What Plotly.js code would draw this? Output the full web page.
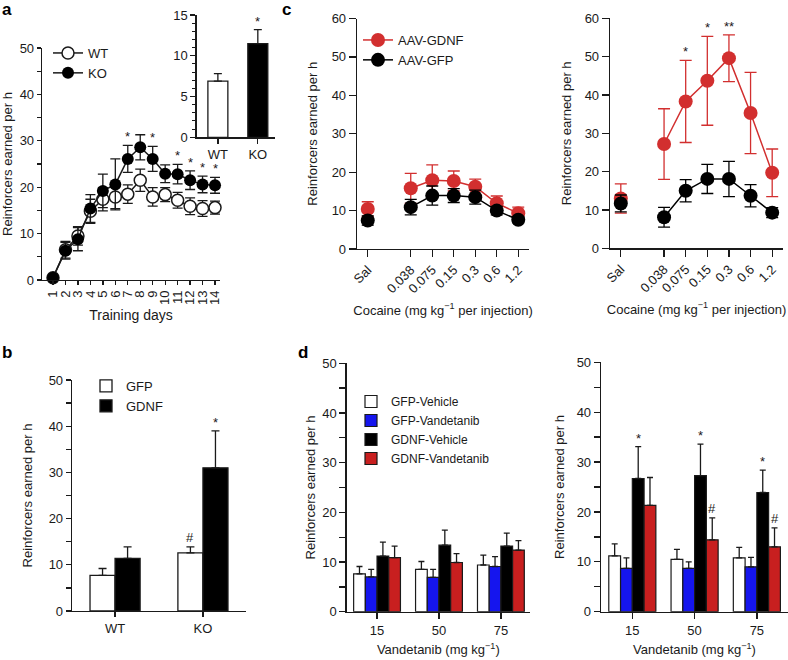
<!DOCTYPE html>
<html>
<head>
<meta charset="utf-8">
<script src="https://cdn.plot.ly/plotly-3.0.1.min.js"></script>
<style>
	html, body { margin: 0; padding: 0; background: #fff; }
	#plot { width: 788px; height: 660px; }
</style>
</head>
<body>
<div id="plot"></div>
<script>
const W = 788;
const H = 660;
const INK = "#1a1a1a";
const RED = "#d22f2f";
const BAR_RED = "#c81f1f";
const BLUE = "#1515ee";
const FONT = "Liberation Sans, Arial, sans-serif";
const TITLE = "Reinforcers earned per h";

// panel a: acquisition over training days
const days = [1, 2, 3, 4, 5, 6, 7, 8, 9, 10, 11, 12, 13, 14];
const wtMean = [0.5, 6.5, 9.5, 14.8, 17.4, 17.9, 18.5, 21.5, 17.9, 18.4, 17.2, 15.9, 15.4, 15.6];
const wtErr = [0.4, 1.8, 2.0, 2.6, 2.5, 2.5, 2.0, 2.4, 2.0, 1.5, 1.7, 1.8, 1.7, 1.4];
const koMean = [0.5, 6.3, 8.8, 15.4, 19.2, 20.6, 26.1, 28.6, 26.1, 22.9, 22.8, 21.5, 20.6, 20.4];
const koErr = [0.4, 1.8, 2.5, 3.0, 3.6, 5.5, 2.9, 2.7, 2.7, 1.9, 2.1, 2.0, 1.8, 1.7];
const koStarDays = [7, 9, 11, 12, 13, 14];

// panel a inset
const insetGroups = ["WT", "KO"];
const insetMean = [6.9, 11.5];
const insetErr = [0.9, 1.7];

// panel b
const genotypes = ["WT", "KO"];
const bGfp = [7.7, 12.6];
const bGfpErr = [1.5, 1.3];
const bGdnf = [11.4, 31.0];
const bGdnfErr = [2.5, 8.0];

// panel c: cocaine dose response
const doseLabels = ["Sal", "0.038", "0.075", "0.15", "0.3", "0.6", "1.2"];
const dosePos = [0, 2, 3, 4, 5, 6, 7];
const cLeftGdnf = [10.4, 15.8, 17.9, 17.7, 16.2, 11.9, 9.3];
const cLeftGdnfErr = [1.9, 3.9, 4.0, 2.6, 2.0, 1.9, 1.6];
const cLeftGfp = [7.4, 10.9, 13.9, 13.9, 13.5, 10.0, 7.6];
const cLeftGfpErr = [1.2, 2.0, 2.5, 1.8, 1.8, 1.1, 0.8];
const cRightGdnf = [13.0, 27.2, 38.3, 43.7, 49.6, 35.3, 19.7];
const cRightGdnfErr = [3.8, 9.2, 10.7, 11.6, 6.1, 10.6, 6.2];
const cRightGfp = [11.7, 8.1, 15.0, 18.1, 18.1, 13.7, 9.3];
const cRightGfpErr = [2.2, 2.6, 2.9, 3.8, 4.6, 2.9, 1.3];
const cRightStars = [["0.075", "*"], ["0.15", "*"], ["0.3", "**"]];

// panel d: vandetanib
const vandDoses = ["15", "50", "75"];
const dGroups = ["GFP-Vehicle", "GFP-Vandetanib", "GDNF-Vehicle", "GDNF-Vandetanib"];
const dColors = ["#ffffff", BLUE, "#000000", BAR_RED];
const dLeftMean = [[7.6, 8.5, 9.4], [7.0, 6.9, 9.1], [11.2, 13.4, 13.2], [10.9, 9.9, 12.4]];
const dLeftErr = [[1.5, 1.6, 2.0], [1.5, 1.6, 2.0], [2.8, 3.0, 2.6], [2.3, 1.8, 1.9]];
const dRightMean = [[11.2, 10.5, 10.8], [8.7, 8.7, 9.0], [26.7, 27.3, 23.9], [21.3, 14.4, 13.0]];
const dRightErr = [[2.4, 2.0, 2.1], [2.1, 1.3, 1.9], [6.4, 6.3, 4.5], [5.6, 4.4, 3.8]];

// pixel boxes -> paper domains
const xd = (left, right) => [left / W, right / W];
const yd = (top, bottom) => [1 - bottom / H, 1 - top / H];

function axis(extra) {
	return Object.assign({
		showline: true,
		linecolor: INK,
		linewidth: 1.3,
		ticks: "outside",
		ticklen: 5,
		tickwidth: 1.3,
		tickcolor: INK,
		showgrid: false,
		zeroline: false,
		fixedrange: true,
		automargin: false,
		tickfont: { size: 13, color: INK },
	}, extra);
}

function axisTitle(text, standoff, size) {
	return { text: text, standoff: standoff, font: { size: size || 13, color: INK } };
}

const traces = [];

// ---- panel a
traces.push({
	x: days, y: wtMean, name: "WT", xaxis: "x", yaxis: "y",
	type: "scatter", mode: "lines+markers", cliponaxis: false,
	line: { color: INK, width: 1.5 },
	marker: { symbol: "circle", size: 12, color: "#fff", line: { color: INK, width: 1.5 } },
	error_y: { type: "data", array: wtErr, color: INK, thickness: 1.3, width: 5 },
});
traces.push({
	x: days, y: koMean, name: "KO", xaxis: "x", yaxis: "y",
	type: "scatter", mode: "lines+markers", cliponaxis: false,
	line: { color: INK, width: 1.5 },
	marker: { symbol: "circle", size: 12, color: "#000" },
	error_y: { type: "data", array: koErr, color: INK, thickness: 1.3, width: 5 },
});
traces.push({
	x: insetGroups.map((g, i) => i), y: insetMean, xaxis: "x2", yaxis: "y2",
	type: "bar", width: 0.5, showlegend: false,
	marker: { color: ["#fff", "#000"], line: { color: INK, width: 1.3 } },
	error_y: { type: "data", symmetric: false, array: insetErr, arrayminus: [0, 0], color: INK, thickness: 1.3, width: 4 },
});

// ---- panel b
traces.push({
	x: genotypes.map((g, i) => i), y: bGfp, name: "GFP", legend: "legend2",
	xaxis: "x5", yaxis: "y5", type: "bar", width: 0.285, offset: -0.285,
	marker: { color: "#fff", line: { color: INK, width: 1.3 } },
	error_y: { type: "data", symmetric: false, array: bGfpErr, arrayminus: [0, 0], color: INK, thickness: 1.3, width: 4 },
});
traces.push({
	x: genotypes.map((g, i) => i), y: bGdnf, name: "GDNF", legend: "legend2",
	xaxis: "x5", yaxis: "y5", type: "bar", width: 0.285, offset: 0,
	marker: { color: "#000", line: { color: INK, width: 1.3 } },
	error_y: { type: "data", symmetric: false, array: bGdnfErr, arrayminus: [0, 0], color: INK, thickness: 1.3, width: 4 },
});

// ---- panel c
function doseTraces(mean, err, color, name, ax, showLegend) {
	const base = {
		xaxis: "x" + ax, yaxis: "y" + ax, type: "scatter", cliponaxis: false,
		legend: "legend3", legendgroup: name + ax,
		line: { color: color, width: 1.5 },
		marker: { symbol: "circle", size: 14, color: color },
	};
	return [
		Object.assign({}, base, {
			x: dosePos.slice(1), y: mean.slice(1), name: name, mode: "lines+markers", showlegend: showLegend,
			error_y: { type: "data", array: err.slice(1), color: color, thickness: 1.3, width: 6 },
		}),
		Object.assign({}, base, {
			x: dosePos.slice(0, 1), y: mean.slice(0, 1), name: name, mode: "markers", showlegend: false,
			error_y: { type: "data", array: err.slice(0, 1), color: color, thickness: 1.3, width: 6 },
		}),
	];
}
traces.push(...doseTraces(cLeftGdnf, cLeftGdnfErr, RED, "AAV-GDNF", 3, true));
traces.push(...doseTraces(cLeftGfp, cLeftGfpErr, "#000", "AAV-GFP", 3, true));
traces.push(...doseTraces(cRightGdnf, cRightGdnfErr, RED, "AAV-GDNF", 4, false));
traces.push(...doseTraces(cRightGfp, cRightGfpErr, "#000", "AAV-GFP", 4, false));

// ---- panel d
const dWidth = 0.189;
function vandTraces(means, errs, ax, showLegend) {
	return dGroups.map((name, k) => ({
		x: vandDoses.map((d, i) => i), y: means[k], name: name,
		xaxis: "x" + ax, yaxis: "y" + ax, type: "bar", legend: "legend4",
		showlegend: showLegend, width: dWidth, offset: (k - 2) * dWidth,
		marker: { color: dColors[k], line: { color: INK, width: 1.2 } },
		error_y: { type: "data", symmetric: false, array: errs[k], arrayminus: [0, 0, 0], color: INK, thickness: 1.3, width: 3 },
	}));
}
traces.push(...vandTraces(dLeftMean, dLeftErr, 6, true));
traces.push(...vandTraces(dRightMean, dRightErr, 7, false));

// ---- significance marks
const annotations = [];
function mark(ax, x, y, text, shift) {
	annotations.push({
		xref: "x" + ax, yref: "y" + ax, x: x, y: y, text: text,
		showarrow: false, yanchor: "bottom", yshift: shift || 0,
		font: { size: 13, color: INK, family: FONT },
	});
}
koStarDays.forEach((d) => {
	const i = days.indexOf(d);
	mark("", d, koMean[i] + koErr[i], "*", -1);
});
mark(2, 1, insetMean[1] + insetErr[1], "*", -1);
mark(5, 1 + 0.1425, bGdnf[1] + bGdnfErr[1], "*", -1);
mark(5, 1 - 0.1425, bGfp[1] + bGfpErr[1], "#", 0);
cRightStars.forEach((s) => {
	const i = doseLabels.indexOf(s[0]);
	mark(4, dosePos[i], cRightGdnf[i] + cRightGdnfErr[i], s[1], -1);
});
vandDoses.forEach((d, i) => {
	mark(7, i + 0.5 * dWidth, dRightMean[2][i] + dRightErr[2][i], "*", -1);
	if (i > 0) mark(7, i + 1.5 * dWidth, dRightMean[3][i] + dRightErr[3][i], "#", 0);
});

// ---- panel letters
[["a", 7, 10], ["b", 7, 352], ["c", 286, 10], ["d", 303, 352]].forEach((p) => {
	annotations.push({
		xref: "paper", yref: "paper", x: p[1] / W, y: 1 - p[2] / H, text: "<b>" + p[0] + "</b>",
		showarrow: false, xanchor: "center", yanchor: "middle",
		font: { size: 17, color: "#000", family: FONT },
	});
});

const cocaineTitle = "Cocaine (mg kg<sup>−1</sup> per injection)";
const vandTitle = "Vandetanib (mg kg<sup>−1</sup>)";

function legendBox(left, top, size) {
	return {
		x: left / W, y: 1 - top / H, xanchor: "left", yanchor: "top",
		bgcolor: "rgba(0,0,0,0)", borderwidth: 0, tracegroupgap: 0,
		font: { size: size, color: INK, family: FONT },
	};
}

const layout = {
	width: W,
	height: H,
	margin: { l: 0, r: 0, t: 0, b: 0 },
	paper_bgcolor: "#fff",
	plot_bgcolor: "rgba(0,0,0,0)",
	font: { family: FONT, color: INK },
	barmode: "overlay",
	showlegend: true,
	legend: legendBox(48, 38, 13),
	legend2: legendBox(86, 371, 13),
	legend3: legendBox(358, 25, 13),
	legend4: legendBox(351, 387, 12),

	xaxis: axis({ domain: xd(42, 220), range: [0.117, 14.4], anchor: "y", tickvals: days, tickangle: -90, ticklen: 4, title: axisTitle("Training days", 6, 14) }),
	yaxis: axis({ domain: yd(48, 280), range: [0, 50], anchor: "x", dtick: 10, ticklen: 4, minor: { dtick: 5, ticks: "outside", ticklen: 4, tickcolor: INK, tickwidth: 1.3 }, title: axisTitle(TITLE, 9) }),

	xaxis2: axis({ domain: xd(196.7, 275), range: [-0.53, 1.43], anchor: "y2", tickvals: [0, 1], ticktext: insetGroups }),
	yaxis2: axis({ domain: yd(15, 137.3), range: [0, 15], anchor: "x2", dtick: 5, minor: { dtick: 1, ticks: "outside", ticklen: 3, tickcolor: INK, tickwidth: 1 } }),

	xaxis3: axis({ domain: xd(357, 529), range: [-0.5, 7.5], anchor: "y3", tickvals: dosePos, ticktext: doseLabels, tickangle: -45, ticklen: 7, title: axisTitle(cocaineTitle, 10) }),
	yaxis3: axis({ domain: yd(18.5, 249), range: [0, 60], anchor: "x3", dtick: 10, ticklen: 7, title: axisTitle(TITLE, 11) }),

	xaxis4: axis({ domain: xd(610, 783), range: [-0.5, 7.5], anchor: "y4", tickvals: dosePos, ticktext: doseLabels, tickangle: -45, ticklen: 7, title: axisTitle(cocaineTitle, 10) }),
	yaxis4: axis({ domain: yd(18.3, 248.3), range: [0, 60], anchor: "x4", dtick: 10, ticklen: 7, title: axisTitle(TITLE, 10) }),

	xaxis5: axis({ domain: xd(72, 246), range: [-0.49, 1.49], anchor: "y5", tickvals: [0, 1], ticktext: genotypes }),
	yaxis5: axis({ domain: yd(380, 611), range: [0, 50], anchor: "x5", dtick: 10, minor: { dtick: 5, ticks: "outside", ticklen: 5, tickcolor: INK, tickwidth: 1.3 }, title: axisTitle(TITLE, 13) }),

	xaxis6: axis({ domain: xd(346.7, 530), range: [-0.49, 2.47], anchor: "y6", tickvals: [0, 1, 2], ticktext: vandDoses, ticklen: 6, title: axisTitle(vandTitle, 8) }),
	yaxis6: axis({ domain: yd(363.3, 611.7), range: [0, 50], anchor: "x6", dtick: 10, ticklen: 6, minor: { dtick: 5, ticks: "outside", ticklen: 6, tickcolor: INK, tickwidth: 1.3 }, title: axisTitle(TITLE, 3) }),

	xaxis7: axis({ domain: xd(601, 788), range: [-0.503, 2.5], anchor: "y7", tickvals: [0, 1, 2], ticktext: vandDoses, ticklen: 6, title: axisTitle(vandTitle, 8) }),
	yaxis7: axis({ domain: yd(362.3, 611.7), range: [0, 50], anchor: "x7", dtick: 10, ticklen: 6, minor: { dtick: 5, ticks: "outside", ticklen: 6, tickcolor: INK, tickwidth: 1.3 }, title: axisTitle(TITLE, 9) }),

	annotations: annotations,
};

Plotly.newPlot("plot", traces, layout, { displayModeBar: false, staticPlot: true });
</script>
</body>
</html>
